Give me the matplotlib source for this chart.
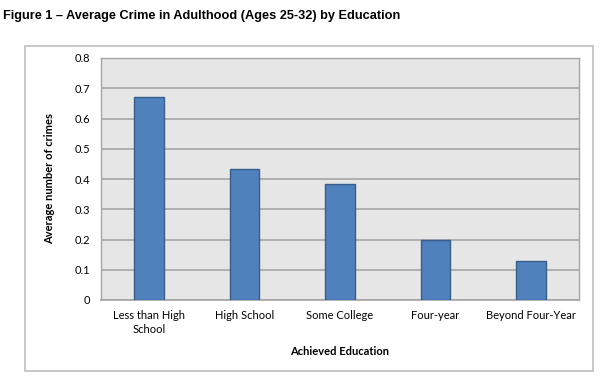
import matplotlib
matplotlib.use("Agg")
import matplotlib.pyplot as plt
from matplotlib.patches import Rectangle

# Data
categories = ["Less than High\nSchool", "High School", "Some College", "Four-year", "Beyond Four-Year"]
avg_crimes = [0.670, 0.434, 0.382, 0.198, 0.130]
y_ticks = [0, 0.1, 0.2, 0.3, 0.4, 0.5, 0.6, 0.7, 0.8]
y_tick_labels = ["0", "0.1", "0.2", "0.3", "0.4", "0.5", "0.6", "0.7", "0.8"]

W, H = 600, 381
fig = plt.figure(figsize=(W / 100, H / 100), dpi=100)
fig.patch.set_facecolor("white")

# outer chart frame
frame = Rectangle((25 / W, 1 - 371 / H), (593 - 25) / W, (371 - 46) / H,
                  transform=fig.transFigure, facecolor="white",
                  edgecolor="#BFBFBF", linewidth=1.2, zorder=-10)
fig.patches.append(frame)

fig.text(3 / W, 1 - 16 / H, "Figure 1 \u2013 Average Crime in Adulthood (Ages 25-32) by Education",
         fontsize=9.2, fontweight="bold", family="Liberation Sans", va="center", ha="left")

ax = fig.add_axes([101 / W, 1 - 300 / H, (579 - 101) / W, (300 - 58) / H])
ax.set_zorder(5)
ax.set_facecolor("#E6E6E6")

x = list(range(len(categories)))
ax.bar(x, avg_crimes, width=0.31, color="#4F81BD", edgecolor="#385D8A", linewidth=1, zorder=3)

ax.set_xlim(-0.5, len(categories) - 0.5)
ax.set_ylim(0, 0.8)
ax.set_yticks(y_ticks)
ax.set_yticklabels(y_tick_labels, family="Lato", fontsize=8)
ax.set_xticks(x)
ax.set_xticklabels(categories, family="Lato", fontsize=8, linespacing=1.35)
ax.tick_params(axis="both", length=0, pad=8)
ax.tick_params(axis="x", pad=7)

ax.yaxis.grid(True, color="#A6A6A6", linewidth=1.2, zorder=0)
ax.set_axisbelow(True)
for side in ["top", "right", "left"]:
    ax.spines[side].set_color("#A6A6A6")
    ax.spines[side].set_linewidth(1)
ax.spines["bottom"].set_color("#A6A6A6")
ax.spines["bottom"].set_linewidth(1.2)

ax.set_xlabel("Achieved Education", family="Lato", fontsize=8, fontweight="bold", labelpad=8)
ax.set_ylabel("Average number of crimes", family="Lato", fontsize=8, fontweight="bold", labelpad=14)

fig.savefig("out.png", dpi=100)
